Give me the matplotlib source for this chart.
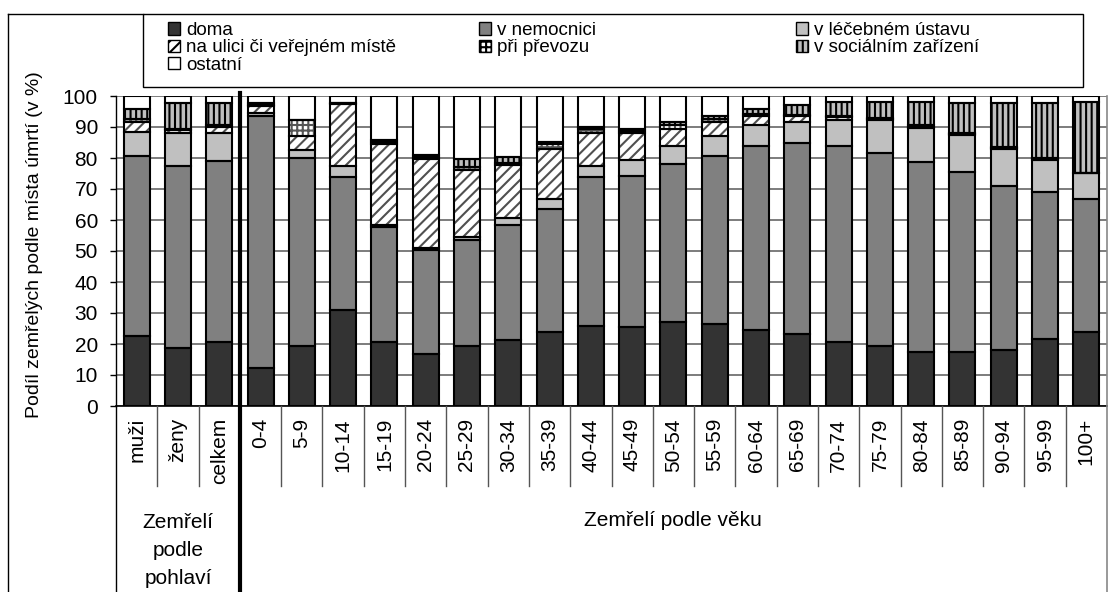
import numpy as np
import matplotlib
matplotlib.use('Agg')
import matplotlib.pyplot as plt
import matplotlib.transforms as mtransforms
from matplotlib.patches import Patch, Rectangle
from matplotlib.lines import Line2D

plt.rcParams['font.family'] = ['Liberation Sans', 'DejaVu Sans']
plt.rcParams['hatch.linewidth'] = 1.5

# kategorie na ose x
kategorie = ['muži', 'ženy', 'celkem', '0-4', '5-9', '10-14', '15-19', '20-24', '25-29',
             '30-34', '35-39', '40-44', '45-49', '50-54', '55-59', '60-64', '65-69',
             '70-74', '75-79', '80-84', '85-89', '90-94', '95-99', '100+']

# podíly v % podle místa úmrtí
doma = [22.7, 18.6, 20.5, 12.2, 19.5, 31.0, 20.7, 16.8, 19.5, 21.3, 24.0, 25.9,
        25.4, 27.2, 26.3, 24.5, 23.2, 20.5, 19.4, 17.5, 17.5, 18.0, 21.5, 24.0]
nemocnice = [57.9, 58.8, 58.6, 81.3, 60.4, 42.8, 36.9, 33.5, 34.0, 37.1, 39.5, 47.9,
             48.9, 50.9, 54.5, 59.4, 61.5, 63.4, 62.1, 61.3, 58.1, 53.1, 47.6, 42.7]
lecebna = [7.9, 10.6, 8.9, 1.0, 2.7, 3.6, 0.8, 0.8, 1.0, 2.3, 3.2, 3.6,
           5.1, 5.8, 6.3, 6.7, 7.0, 8.4, 10.6, 10.8, 11.7, 11.8, 10.4, 8.4]
ulice = [3.0, 1.0, 2.0, 2.2, 4.5, 20.1, 26.1, 28.5, 21.5, 17.2, 16.1, 10.8,
         8.6, 5.6, 4.6, 2.9, 1.8, 1.0, 0.5, 0.5, 0.3, 0.2, 0.2, 0.1]
prevoz = [1.0, 0.3, 0.6, 0.3, 5.2, 0.2, 0.8, 0.8, 1.2, 0.6, 1.6, 1.0,
          0.8, 1.0, 0.8, 0.8, 0.4, 0.4, 0.3, 0.4, 0.4, 0.3, 0.2, 0.1]
socialni = [3.2, 8.3, 7.0, 0.7, 0.0, 0.2, 0.5, 0.6, 2.4, 1.9, 0.9, 0.7,
            0.5, 1.2, 1.0, 1.4, 3.2, 4.4, 5.3, 7.7, 9.8, 14.2, 17.7, 22.9]
ostatni = [4.3, 2.4, 2.4, 2.3, 7.7, 2.1, 14.2, 19.0, 20.4, 19.6, 14.7, 10.1,
           10.7, 8.3, 6.5, 4.3, 2.9, 1.9, 1.8, 1.8, 2.2, 2.4, 2.4, 1.8]

nazvy = ['doma', 'v nemocnici', 'v léčebném ústavu', 'na ulici či veřejném místě',
         'při převozu', 'v sociálním zařízení', 'ostatní']
rady = [doma, nemocnice, lecebna, ulice, prevoz, socialni, ostatni]
# (výplň, šrafa, barva šrafy)
styly = [('#333333', None, '#333333'),
         ('#808080', None, '#808080'),
         ('#c0c0c0', None, '#c0c0c0'),
         ('white', '///', '#505050'),
         ('white', '+++', '#555555'),
         ('#bfbfbf', '|||', 'black'),
         ('white', None, 'white')]

W, H = 1109, 592
def fx(px): return px / W
def fy(py): return 1 - py / H

fig = plt.figure(figsize=(W / 100, H / 100), dpi=100)
ax = fig.add_axes([fx(116), fy(406), fx(1107) - fx(116), fy(96) - fy(406)])

x = np.arange(len(kategorie))
sirka = 0.63
spodek = np.zeros(len(kategorie))
for vals, (fc, hatch, hc) in zip(rady, styly):
    vals = np.array(vals)
    ax.bar(x, vals, sirka, bottom=spodek, color=fc, edgecolor=hc, hatch=hatch,
           linewidth=0, zorder=2)
    ax.bar(x, vals, sirka, bottom=spodek, fill=False, edgecolor='black',
           linewidth=1.5, zorder=3)
    spodek += vals

ax.set_xlim(-0.5, len(kategorie) - 0.5)
ax.set_ylim(0, 100)
ax.set_yticks(np.arange(0, 101, 10))
ax.tick_params(axis='y', labelsize=15, length=4, width=1, direction='out', pad=9)
ax.set_xticks([])
ax.grid(axis='y', color='#666666', linewidth=1.2, zorder=0)
ax.set_axisbelow(True)
for s in ['top', 'right']:
    ax.spines[s].set_visible(False)
ax.spines['left'].set_linewidth(1)
ax.spines['bottom'].set_linewidth(1.2)

trans = mtransforms.blended_transform_factory(ax.transData, fig.transFigure)

# popisky kategorií a dělicí čáry
for i, k in enumerate(kategorie):
    ax.text(i, fy(418), k, transform=trans, rotation=90, ha='center', va='top',
            fontsize=15)
for i in range(len(kategorie) - 1):
    if i == 2:
        continue
    fig.add_artist(Line2D([i + 0.5, i + 0.5], [fy(406), fy(486)], transform=trans,
                          color='#555555', linewidth=1))
# tlustá čára mezi pohlavím a věkem
fig.add_artist(Line2D([2.5, 2.5], [fy(93), 0], transform=trans,
                      color='black', linewidth=3))
# levý a pravý okraj oblasti kategorií
fig.add_artist(Line2D([-0.5, -0.5], [fy(406), 0], transform=trans,
                      color='black', linewidth=1))
fig.add_artist(Line2D([len(kategorie) - 0.5] * 2, [fy(96), 0], transform=trans,
                      color='#888888', linewidth=1.2))

ax.text(1, fy(551), 'Zemřelí\npodle\npohlaví', transform=trans, ha='center', va='center',
        fontsize=15, linespacing=1.6)
ax.text(13, fy(521), 'Zemřelí podle věku', transform=trans, ha='center', va='center',
        fontsize=15)

fig.text(fx(35), fy(245), 'Podíl zemřelých podle místa úmrtí (v %)', rotation=90,
         ha='center', va='center', fontsize=14)

# rámeček grafu a legendy
fig.add_artist(Line2D([fx(8), fx(8)], [fy(14), 0], transform=fig.transFigure,
                      color='black', linewidth=1))
fig.add_artist(Line2D([fx(8), fx(143)], [fy(14), fy(14)], transform=fig.transFigure,
                      color='black', linewidth=1))
fig.add_artist(Rectangle((fx(143), fy(87)), fx(1083) - fx(143), fy(14) - fy(87),
                         transform=fig.transFigure, fill=False, edgecolor='black',
                         linewidth=1))

handles = [Patch(facecolor=fc, edgecolor='black', hatch=h, linewidth=1)
           for fc, h, hc in styly]
sloupce = [[0, 3, 6], [1, 4], [2, 5]]
sloupce_x = [168, 479, 796]
for idx, cx in zip(sloupce, sloupce_x):
    fig.legend([handles[j] for j in idx], [nazvy[j] for j in idx],
               loc='upper left', bbox_to_anchor=(fx(cx), fy(22)),
               frameon=False, fontsize=13.5, borderpad=0, borderaxespad=0,
               handlelength=0.65, handleheight=0.65, handletextpad=0.3,
               labelspacing=0.02)

fig.savefig('out.png', dpi=100)
